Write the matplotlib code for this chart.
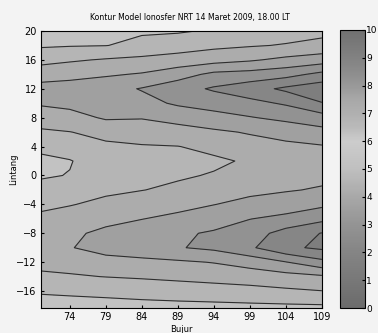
import numpy as np
import matplotlib
matplotlib.use("Agg")
import matplotlib.pyplot as plt
from matplotlib.colors import LinearSegmentedColormap, Normalize
from matplotlib.cm import ScalarMappable

plt.rcParams['font.family'] = ['Liberation Sans Narrow', 'DejaVu Sans']

# grid
bujur = [70, 74, 79, 84, 89, 94, 99, 104, 109]
lintang = [20, 18, 16, 14, 12, 10, 8, 6, 4, 2, 0, -2, -4, -6, -8, -10, -12, -14, -16, -18, -20]
nilai = [
    [6.30, 6.35, 6.40, 6.45, 6.45, 6.55, 6.70, 6.80, 6.85],
    [6.44, 6.47, 6.49, 6.61, 6.77, 6.89, 6.96, 7.03, 7.16],
    [6.84, 6.94, 7.04, 7.12, 7.20, 7.31, 7.44, 7.62, 7.75],
    [7.29, 7.35, 7.44, 7.54, 7.78, 8.12, 8.19, 8.32, 8.64],
    [7.67, 7.71, 7.82, 8.03, 8.31, 8.56, 8.79, 9.10, 9.31],
    [7.56, 7.64, 7.80, 7.84, 8.07, 8.21, 8.36, 8.56, 8.98],
    [7.23, 7.31, 7.56, 7.53, 7.67, 7.82, 7.97, 8.12, 8.28],
    [6.93, 6.99, 7.13, 7.19, 7.30, 7.42, 7.54, 7.68, 7.84],
    [6.66, 6.78, 6.92, 6.97, 6.99, 7.11, 7.30, 7.39, 7.46],
    [6.35, 6.47, 6.81, 6.89, 6.94, 6.93, 7.05, 7.20, 7.29],
    [6.44, 6.52, 6.81, 6.90, 6.95, 7.03, 7.21, 7.28, 7.37],
    [6.68, 6.79, 6.93, 6.99, 7.08, 7.26, 7.39, 7.46, 7.55],
    [6.90, 6.98, 7.09, 7.22, 7.36, 7.49, 7.63, 7.77, 7.90],
    [7.10, 7.17, 7.35, 7.49, 7.61, 7.77, 7.99, 8.12, 8.37],
    [7.28, 7.40, 7.62, 7.74, 7.92, 8.06, 8.26, 8.70, 9.02],
    [7.33, 7.47, 7.71, 7.83, 7.97, 8.10, 8.42, 8.90, 9.09],
    [7.14, 7.19, 7.30, 7.36, 7.43, 7.52, 7.69, 7.98, 8.36],
    [6.91, 6.95, 7.01, 7.06, 7.12, 7.18, 7.24, 7.32, 7.42],
    [6.54, 6.57, 6.61, 6.66, 6.72, 6.78, 6.84, 6.92, 6.99],
    [6.36, 6.36, 6.37, 6.39, 6.40, 6.41, 6.43, 6.45, 6.47],
    [6.20, 6.20, 6.20, 6.20, 6.20, 6.20, 6.20, 6.20, 6.20],
]
levels = [6.0, 6.5, 7.0, 7.5, 8.0, 8.5, 9.0, 9.5]
xticks = [74, 79, 84, 89, 94, 99, 104, 109]
yticks = [20, 16, 12, 8, 4, 0, -4, -8, -12, -16]

# grayscale version of the printed colour bar
anchors = [(0.0, 0.42), (0.1, 0.47), (0.2, 0.52), (0.3, 0.58), (0.4, 0.66), (0.5, 0.75),
           (0.6, 0.80), (0.65, 0.73), (0.7, 0.69), (0.75, 0.66), (0.8, 0.60),
           (0.85, 0.55), (0.9, 0.51), (1.0, 0.44)]
cmap = LinearSegmentedColormap.from_list("abu", [(p, (g, g, g)) for p, g in anchors])
norm = Normalize(0, 10)

fig = plt.figure(figsize=(3.78, 3.33), dpi=100, facecolor="#f3f3f3")
ax = fig.add_axes([0.1085, 0.076, 0.743, 0.831])
cax = fig.add_axes([0.899, 0.075, 0.066, 0.835])

X, Y = np.meshgrid(bujur, lintang)
Z = np.array(nilai)
ax.contourf(X, Y, Z, levels=levels, cmap=cmap, norm=norm)
ax.contour(X, Y, Z, levels=levels[1:-1], colors="#2e2e2e", linewidths=0.8)

ax.set_xlim(70, 109)
ax.set_ylim(-18.3, 20)
ax.set_xticks(xticks)
ax.set_yticks(yticks)
ax.tick_params(direction="in", length=2, labelsize=7, pad=3)
ax.set_title("Kontur Model Ionosfer NRT 14 Maret 2009, 18.00 LT", fontsize=5.6, pad=8, x=0.53)
ax.set_xlabel("Bujur", fontsize=6, labelpad=2)
ax.set_ylabel("Lintang", fontsize=6, labelpad=-1)

cb = fig.colorbar(ScalarMappable(norm=norm, cmap=cmap), cax=cax, ticks=range(11))
cb.ax.tick_params(direction="in", length=2, labelsize=6.5, pad=1)

fig.savefig("out.png", dpi=100, facecolor=fig.get_facecolor())
